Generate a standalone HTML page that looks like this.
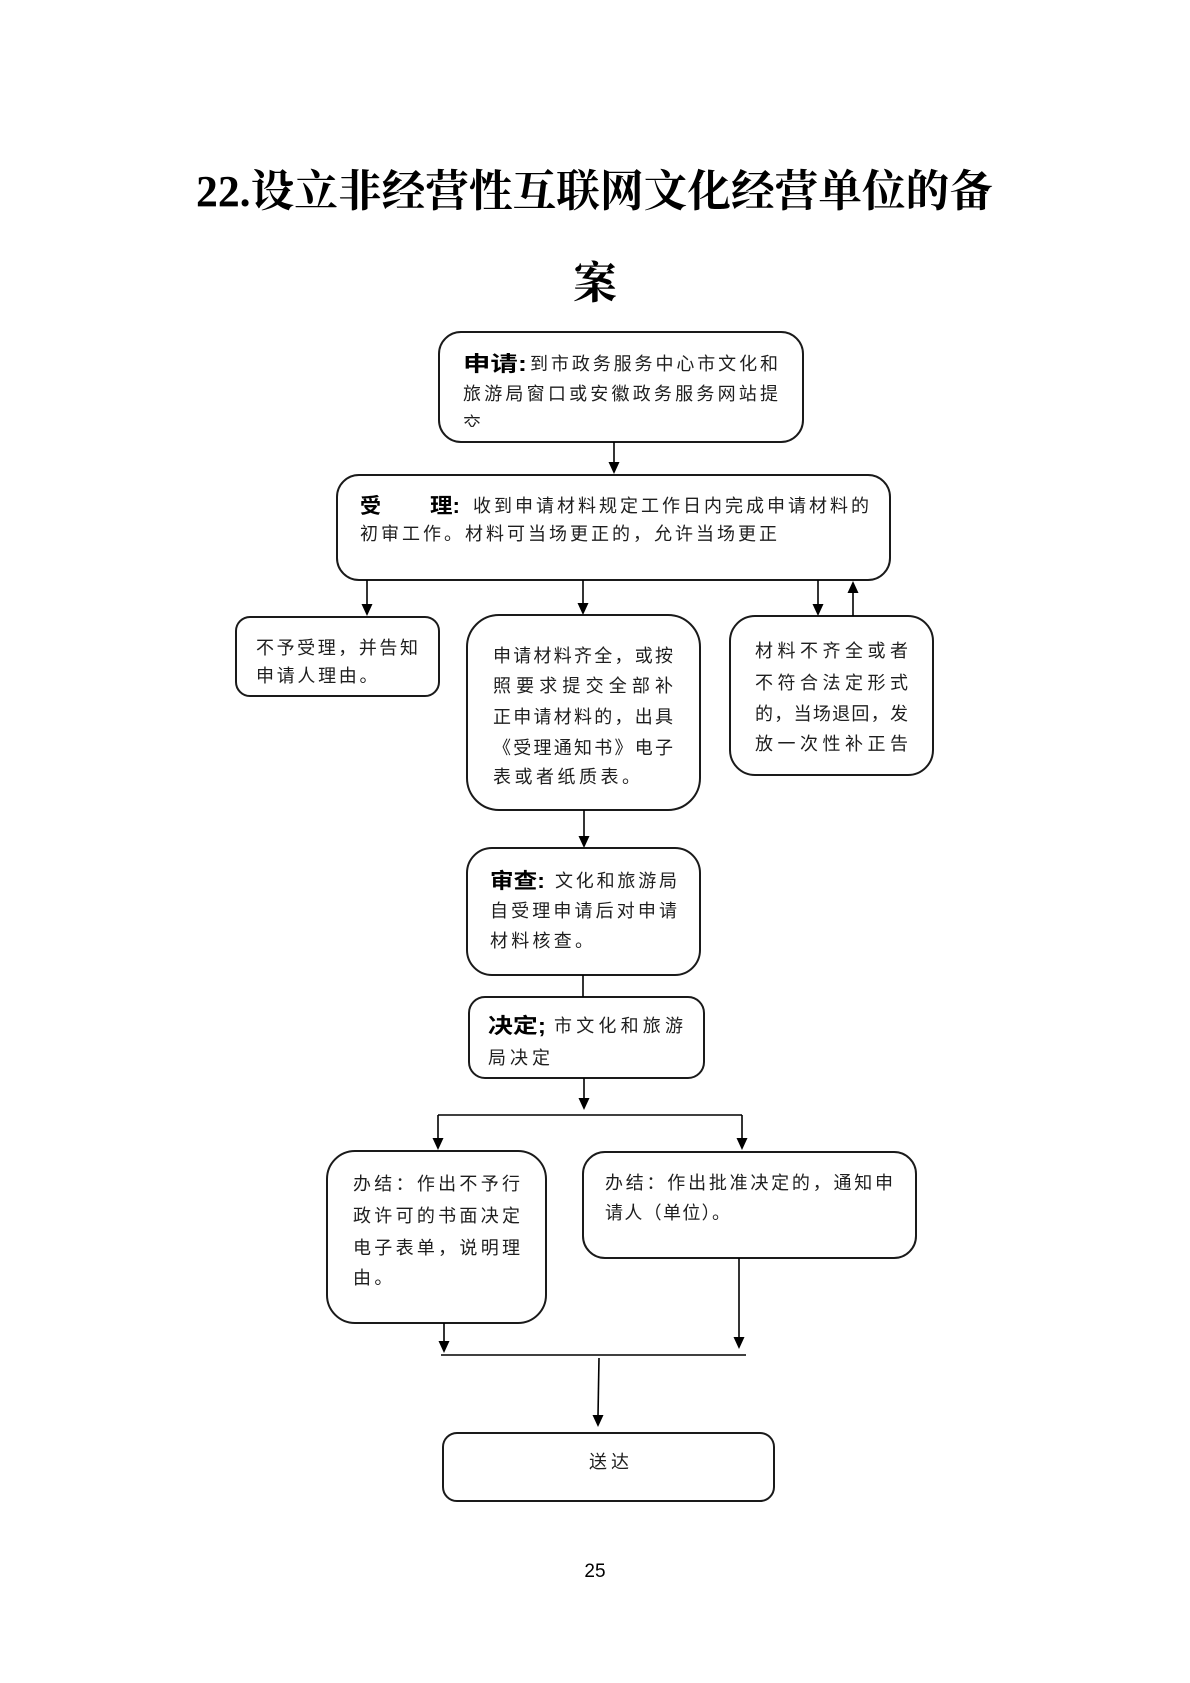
<!DOCTYPE html>
<html>
<head>
<meta charset="utf-8">
<style>
  html, body { margin: 0; padding: 0; background: #fff; }
  body { width: 1190px; height: 1683px; overflow: hidden; }
  svg { display: block; }
  .t { font-family: "Liberation Serif", "Noto Serif CJK SC", serif; font-weight: bold; font-size: 44px; fill: #000; }
  .b { font-family: "Liberation Sans", "Noto Sans CJK SC", sans-serif; font-size: 18px; fill: #1e1e1e; }
  .lb { font-family: "Liberation Sans", "Noto Sans CJK SC", sans-serif; font-weight: bold; font-size: 21px; fill: #000; }
  .box { fill: #fff; stroke: #1a1a1a; stroke-width: 2; }
  .ln { stroke: #000; stroke-width: 1.6; fill: none; }
  .ah { fill: #000; stroke: none; }
</style>
</head>
<body>
<svg width="1190" height="1683" viewBox="0 0 1190 1683" xmlns="http://www.w3.org/2000/svg">
  <defs>
    <clipPath id="c1"><rect x="439" y="332" width="364" height="95"/></clipPath>
  </defs>

  <!-- Title -->
  <text class="t" x="196" y="206" textLength="797" lengthAdjust="spacingAndGlyphs">22.设立非经营性互联网文化经营单位的备</text>
  <text class="t" x="595" y="298" text-anchor="middle">案</text>

  <!-- Boxes -->
  <rect class="box" x="439" y="332" width="364" height="110" rx="22" ry="22"/>
  <rect class="box" x="337" y="475" width="553" height="105" rx="22" ry="22"/>
  <rect class="box" x="236" y="617" width="203" height="79" rx="14" ry="14"/>
  <rect class="box" x="467" y="615" width="233" height="195" rx="32" ry="32"/>
  <rect class="box" x="730" y="616" width="203" height="159" rx="25" ry="25"/>
  <rect class="box" x="467" y="848" width="233" height="127" rx="25" ry="25"/>
  <rect class="box" x="469" y="997" width="235" height="81" rx="16" ry="16"/>
  <rect class="box" x="327" y="1151" width="219" height="172" rx="28" ry="28"/>
  <rect class="box" x="583" y="1152" width="333" height="106" rx="22" ry="22"/>
  <rect class="box" x="443" y="1433" width="331" height="68" rx="14" ry="14"/>

  <!-- Connectors -->
  <line class="ln" x1="614" y1="442" x2="614" y2="463"/>
  <polygon class="ah" points="608.5,462 619.5,462 614,474"/>

  <line class="ln" x1="367" y1="580" x2="367" y2="605"/>
  <polygon class="ah" points="361.5,604 372.5,604 367,616"/>
  <line class="ln" x1="583" y1="580" x2="583" y2="604"/>
  <polygon class="ah" points="577.5,603 588.5,603 583,615"/>
  <line class="ln" x1="818" y1="580" x2="818" y2="605"/>
  <polygon class="ah" points="812.5,604 823.5,604 818,616"/>
  <line class="ln" x1="853" y1="616" x2="853" y2="592"/>
  <polygon class="ah" points="847.5,593 858.5,593 853,581"/>

  <line class="ln" x1="584" y1="810" x2="584" y2="837"/>
  <polygon class="ah" points="578.5,836 589.5,836 584,848"/>

  <line class="ln" x1="583" y1="975" x2="583" y2="997"/>

  <line class="ln" x1="584" y1="1078" x2="584" y2="1099"/>
  <polygon class="ah" points="578.5,1098 589.5,1098 584,1110"/>

  <line class="ln" x1="438" y1="1115" x2="742" y2="1115"/>
  <line class="ln" x1="438" y1="1115" x2="438" y2="1139"/>
  <polygon class="ah" points="432.5,1138 443.5,1138 438,1150"/>
  <line class="ln" x1="742" y1="1115" x2="742" y2="1139"/>
  <polygon class="ah" points="736.5,1138 747.5,1138 742,1150"/>

  <line class="ln" x1="444" y1="1323" x2="444" y2="1342"/>
  <polygon class="ah" points="438.5,1341 449.5,1341 444,1353"/>
  <line class="ln" x1="739" y1="1258" x2="739" y2="1338"/>
  <polygon class="ah" points="733.5,1337 744.5,1337 739,1349"/>
  <line class="ln" x1="441" y1="1355" x2="746" y2="1355"/>
  <line class="ln" x1="599" y1="1358" x2="598" y2="1416"/>
  <polygon class="ah" points="592.5,1415 603.5,1415 598,1427"/>

  <!-- Box 1: 申请 -->
  <text class="lb" x="463" y="371" font-size="22" textLength="64" lengthAdjust="spacingAndGlyphs">申请:</text>
  <text class="b" x="530" y="370" textLength="248" lengthAdjust="spacing">到市政务服务中心市文化和</text>
  <text class="b" x="463" y="400" textLength="315" lengthAdjust="spacing">旅游局窗口或安徽政务服务网站提</text>
  <text class="b" x="463" y="430" clip-path="url(#c1)">交</text>

  <!-- Box 2: 受理 -->
  <text class="lb" x="360" y="513">受</text>
  <text class="lb" x="430" y="513" textLength="30" lengthAdjust="spacingAndGlyphs">理:</text>
  <text class="b" x="473" y="512" textLength="396" lengthAdjust="spacing">收到申请材料规定工作日内完成申请材料的</text>
  <text class="b" x="360" y="540" textLength="417" lengthAdjust="spacing">初审工作。材料可当场更正的，允许当场更正</text>

  <!-- Box 3 -->
  <text class="b" x="256" y="654" textLength="162" lengthAdjust="spacing">不予受理，并告知</text>
  <text class="b" x="256" y="682" letter-spacing="2.7">申请人理由。</text>

  <!-- Box 4 -->
  <text class="b" x="493" y="662" textLength="180" lengthAdjust="spacing">申请材料齐全，或按</text>
  <text class="b" x="493" y="692" textLength="180" lengthAdjust="spacing">照要求提交全部补</text>
  <text class="b" x="493" y="723" textLength="180" lengthAdjust="spacing">正申请材料的，出具</text>
  <text class="b" x="493" y="754" textLength="180" lengthAdjust="spacing">《受理通知书》电子</text>
  <text class="b" x="493" y="783" letter-spacing="3.5">表或者纸质表。</text>

  <!-- Box 5 -->
  <text class="b" x="755" y="657" textLength="153" lengthAdjust="spacing">材料不齐全或者</text>
  <text class="b" x="755" y="689" textLength="153" lengthAdjust="spacing">不符合法定形式</text>
  <text class="b" x="755" y="720" textLength="153" lengthAdjust="spacing">的，当场退回，发</text>
  <text class="b" x="755" y="750" textLength="153" lengthAdjust="spacing">放一次性补正告</text>

  <!-- Box 6: 审查 -->
  <text class="lb" x="490" y="888" textLength="55" lengthAdjust="spacingAndGlyphs">审查:</text>
  <text class="b" x="555" y="887" textLength="122" lengthAdjust="spacing">文化和旅游局</text>
  <text class="b" x="490" y="917" textLength="187" lengthAdjust="spacing">自受理申请后对申请</text>
  <text class="b" x="490" y="947" letter-spacing="3.25">材料核查。</text>

  <!-- Box 7: 决定 -->
  <text class="lb" x="488" y="1033" textLength="58" lengthAdjust="spacingAndGlyphs">决定;</text>
  <text class="b" x="554" y="1032" textLength="129" lengthAdjust="spacing">市文化和旅游</text>
  <text class="b" x="488" y="1064" letter-spacing="4">局决定</text>

  <!-- Box 8 -->
  <text class="b" x="353" y="1190" textLength="167" lengthAdjust="spacing">办结：作出不予行</text>
  <text class="b" x="353" y="1222" textLength="167" lengthAdjust="spacing">政许可的书面决定</text>
  <text class="b" x="353" y="1254" textLength="167" lengthAdjust="spacing">电子表单，说明理</text>
  <text class="b" x="353" y="1284" letter-spacing="3.4">由。</text>

  <!-- Box 9 -->
  <text class="b" x="605" y="1189" textLength="288" lengthAdjust="spacing">办结：作出批准决定的，通知申</text>
  <text class="b" x="605" y="1219" textLength="125" lengthAdjust="spacing">请人（单位）。</text>

  <!-- Box 10 -->
  <text class="b" x="589" y="1468" letter-spacing="4">送达</text>

  <!-- Page number -->
  <text x="595" y="1577" text-anchor="middle" font-family="Liberation Sans, sans-serif" font-size="19" fill="#000">25</text>
</svg>
</body>
</html>
